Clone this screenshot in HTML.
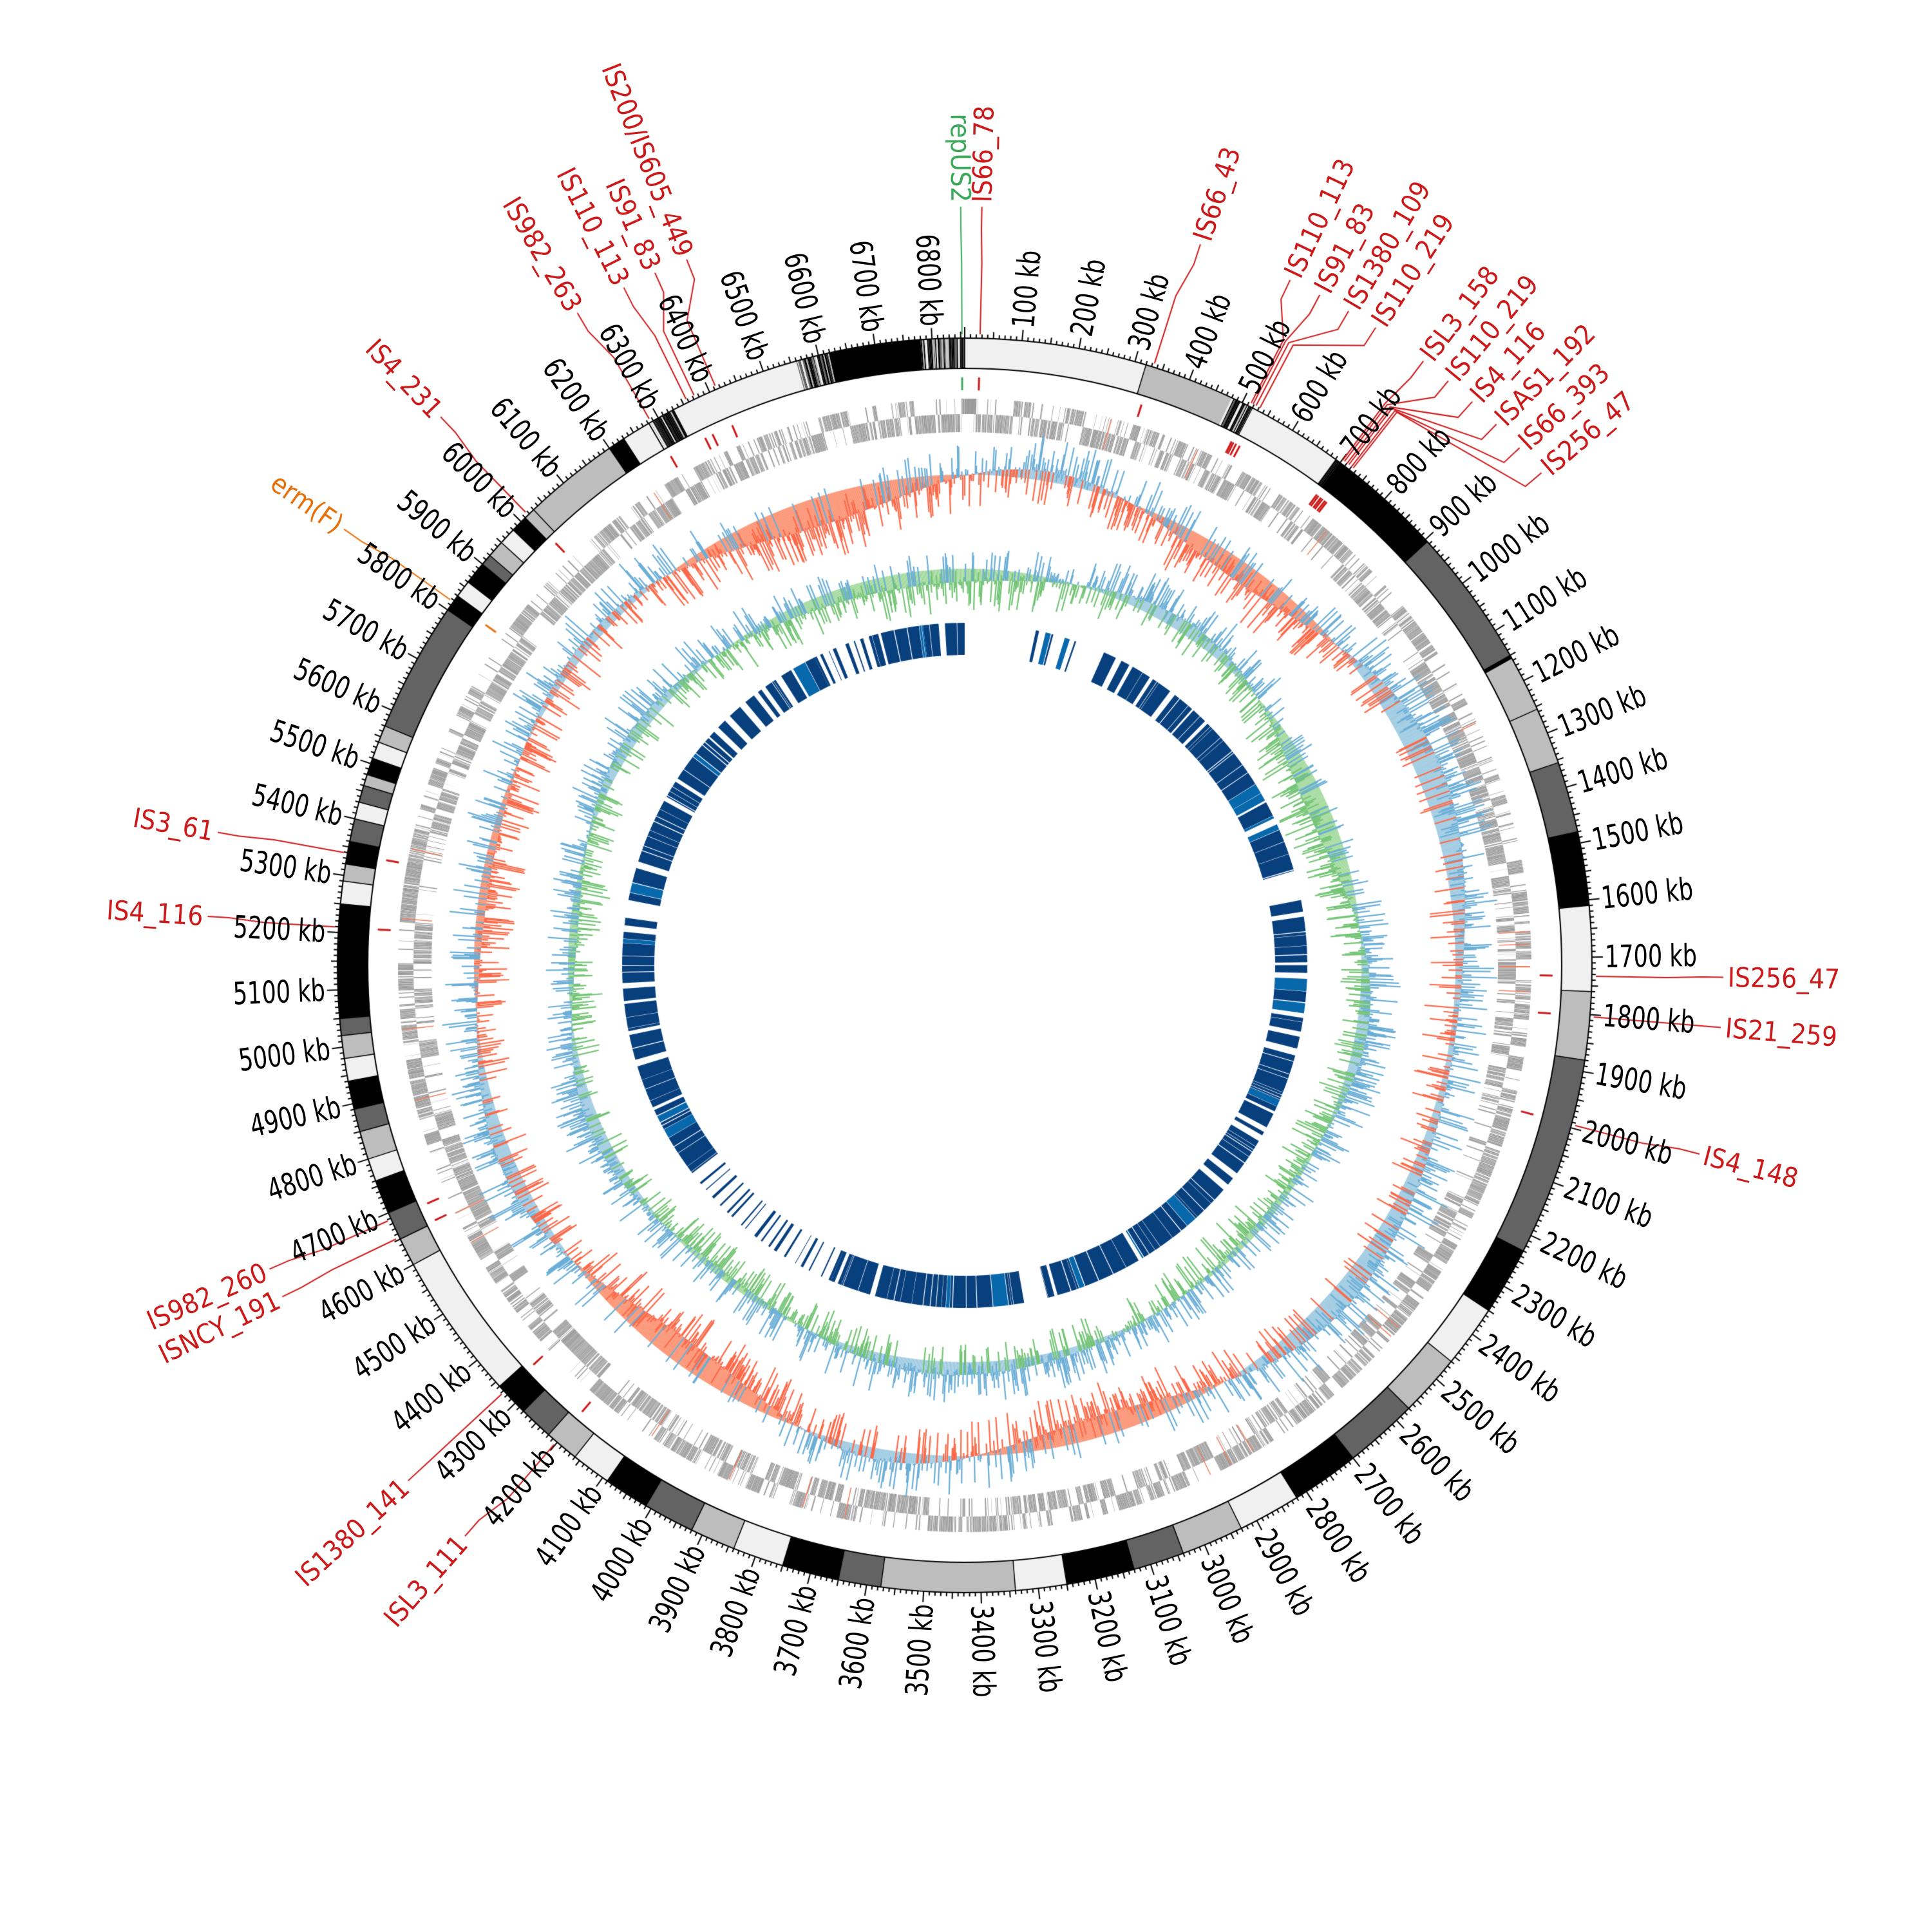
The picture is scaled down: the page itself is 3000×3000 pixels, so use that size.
<!DOCTYPE html>
<html><head><meta charset="utf-8">
<style>
html,body{margin:0;padding:0;background:#fff;}
#wrap{position:relative;width:3000px;height:3000px;overflow:hidden;}
canvas,svg{position:absolute;left:0;top:0;}
.t{font-family:"Liberation Sans Narrow","DejaVu Sans Condensed","Liberation Sans",sans-serif;font-size:48px;fill:#000;dominant-baseline:central;}
.f{font-family:"Liberation Sans Narrow","DejaVu Sans Condensed","Liberation Sans",sans-serif;font-size:42px;fill:#cc1a1a;dominant-baseline:central;}
.e{text-anchor:end;}
</style></head><body>
<div id="wrap">
<canvas id="c" width="3000" height="3000"></canvas>
<svg width="3000" height="3000" viewBox="0 0 3000 3000">
<g class="t">
<text transform="rotate(-84.75 1498 1499)" x="2492" y="1499" textLength="121" lengthAdjust="spacingAndGlyphs">100 kb</text>
<text transform="rotate(-79.5 1498 1499)" x="2492" y="1499" textLength="121" lengthAdjust="spacingAndGlyphs">200 kb</text>
<text transform="rotate(-74.25 1498 1499)" x="2492" y="1499" textLength="121" lengthAdjust="spacingAndGlyphs">300 kb</text>
<text transform="rotate(-69 1498 1499)" x="2492" y="1499" textLength="121" lengthAdjust="spacingAndGlyphs">400 kb</text>
<text transform="rotate(-63.75 1498 1499)" x="2492" y="1499" textLength="121" lengthAdjust="spacingAndGlyphs">500 kb</text>
<text transform="rotate(-58.5 1498 1499)" x="2492" y="1499" textLength="121" lengthAdjust="spacingAndGlyphs">600 kb</text>
<text transform="rotate(-53.25 1498 1499)" x="2492" y="1499" textLength="121" lengthAdjust="spacingAndGlyphs">700 kb</text>
<text transform="rotate(-48 1498 1499)" x="2492" y="1499" textLength="121" lengthAdjust="spacingAndGlyphs">800 kb</text>
<text transform="rotate(-42.75 1498 1499)" x="2492" y="1499" textLength="121" lengthAdjust="spacingAndGlyphs">900 kb</text>
<text transform="rotate(-37.5 1498 1499)" x="2492" y="1499" textLength="143" lengthAdjust="spacingAndGlyphs">1000 kb</text>
<text transform="rotate(-32.25 1498 1499)" x="2492" y="1499" textLength="143" lengthAdjust="spacingAndGlyphs">1100 kb</text>
<text transform="rotate(-27 1498 1499)" x="2492" y="1499" textLength="143" lengthAdjust="spacingAndGlyphs">1200 kb</text>
<text transform="rotate(-21.75 1498 1499)" x="2492" y="1499" textLength="143" lengthAdjust="spacingAndGlyphs">1300 kb</text>
<text transform="rotate(-16.5 1498 1499)" x="2492" y="1499" textLength="143" lengthAdjust="spacingAndGlyphs">1400 kb</text>
<text transform="rotate(-11.25 1498 1499)" x="2492" y="1499" textLength="143" lengthAdjust="spacingAndGlyphs">1500 kb</text>
<text transform="rotate(-6 1498 1499)" x="2492" y="1499" textLength="143" lengthAdjust="spacingAndGlyphs">1600 kb</text>
<text transform="rotate(-0.75 1498 1499)" x="2492" y="1499" textLength="143" lengthAdjust="spacingAndGlyphs">1700 kb</text>
<text transform="rotate(4.5 1498 1499)" x="2492" y="1499" textLength="143" lengthAdjust="spacingAndGlyphs">1800 kb</text>
<text transform="rotate(9.75 1498 1499)" x="2492" y="1499" textLength="143" lengthAdjust="spacingAndGlyphs">1900 kb</text>
<text transform="rotate(15 1498 1499)" x="2492" y="1499" textLength="143" lengthAdjust="spacingAndGlyphs">2000 kb</text>
<text transform="rotate(20.25 1498 1499)" x="2492" y="1499" textLength="143" lengthAdjust="spacingAndGlyphs">2100 kb</text>
<text transform="rotate(25.5 1498 1499)" x="2492" y="1499" textLength="143" lengthAdjust="spacingAndGlyphs">2200 kb</text>
<text transform="rotate(30.75 1498 1499)" x="2492" y="1499" textLength="143" lengthAdjust="spacingAndGlyphs">2300 kb</text>
<text transform="rotate(36 1498 1499)" x="2492" y="1499" textLength="143" lengthAdjust="spacingAndGlyphs">2400 kb</text>
<text transform="rotate(41.25 1498 1499)" x="2492" y="1499" textLength="143" lengthAdjust="spacingAndGlyphs">2500 kb</text>
<text transform="rotate(46.5 1498 1499)" x="2492" y="1499" textLength="143" lengthAdjust="spacingAndGlyphs">2600 kb</text>
<text transform="rotate(51.75 1498 1499)" x="2492" y="1499" textLength="143" lengthAdjust="spacingAndGlyphs">2700 kb</text>
<text transform="rotate(57 1498 1499)" x="2492" y="1499" textLength="143" lengthAdjust="spacingAndGlyphs">2800 kb</text>
<text transform="rotate(62.25 1498 1499)" x="2492" y="1499" textLength="143" lengthAdjust="spacingAndGlyphs">2900 kb</text>
<text transform="rotate(67.5 1498 1499)" x="2492" y="1499" textLength="143" lengthAdjust="spacingAndGlyphs">3000 kb</text>
<text transform="rotate(72.75 1498 1499)" x="2492" y="1499" textLength="143" lengthAdjust="spacingAndGlyphs">3100 kb</text>
<text transform="rotate(78 1498 1499)" x="2492" y="1499" textLength="143" lengthAdjust="spacingAndGlyphs">3200 kb</text>
<text transform="rotate(83.25 1498 1499)" x="2492" y="1499" textLength="143" lengthAdjust="spacingAndGlyphs">3300 kb</text>
<text transform="rotate(88.5 1498 1499)" x="2492" y="1499" textLength="143" lengthAdjust="spacingAndGlyphs">3400 kb</text>
<text class="e" transform="rotate(273.75 1498 1499)" x="504" y="1499" textLength="143" lengthAdjust="spacingAndGlyphs">3500 kb</text>
<text class="e" transform="rotate(279 1498 1499)" x="504" y="1499" textLength="143" lengthAdjust="spacingAndGlyphs">3600 kb</text>
<text class="e" transform="rotate(284.25 1498 1499)" x="504" y="1499" textLength="143" lengthAdjust="spacingAndGlyphs">3700 kb</text>
<text class="e" transform="rotate(289.5 1498 1499)" x="504" y="1499" textLength="143" lengthAdjust="spacingAndGlyphs">3800 kb</text>
<text class="e" transform="rotate(294.75 1498 1499)" x="504" y="1499" textLength="143" lengthAdjust="spacingAndGlyphs">3900 kb</text>
<text class="e" transform="rotate(300 1498 1499)" x="504" y="1499" textLength="143" lengthAdjust="spacingAndGlyphs">4000 kb</text>
<text class="e" transform="rotate(305.25 1498 1499)" x="504" y="1499" textLength="143" lengthAdjust="spacingAndGlyphs">4100 kb</text>
<text class="e" transform="rotate(310.5 1498 1499)" x="504" y="1499" textLength="143" lengthAdjust="spacingAndGlyphs">4200 kb</text>
<text class="e" transform="rotate(315.75 1498 1499)" x="504" y="1499" textLength="143" lengthAdjust="spacingAndGlyphs">4300 kb</text>
<text class="e" transform="rotate(321 1498 1499)" x="504" y="1499" textLength="143" lengthAdjust="spacingAndGlyphs">4400 kb</text>
<text class="e" transform="rotate(326.25 1498 1499)" x="504" y="1499" textLength="143" lengthAdjust="spacingAndGlyphs">4500 kb</text>
<text class="e" transform="rotate(331.5 1498 1499)" x="504" y="1499" textLength="143" lengthAdjust="spacingAndGlyphs">4600 kb</text>
<text class="e" transform="rotate(336.75 1498 1499)" x="504" y="1499" textLength="143" lengthAdjust="spacingAndGlyphs">4700 kb</text>
<text class="e" transform="rotate(342 1498 1499)" x="504" y="1499" textLength="143" lengthAdjust="spacingAndGlyphs">4800 kb</text>
<text class="e" transform="rotate(347.25 1498 1499)" x="504" y="1499" textLength="143" lengthAdjust="spacingAndGlyphs">4900 kb</text>
<text class="e" transform="rotate(352.5 1498 1499)" x="504" y="1499" textLength="143" lengthAdjust="spacingAndGlyphs">5000 kb</text>
<text class="e" transform="rotate(357.75 1498 1499)" x="504" y="1499" textLength="143" lengthAdjust="spacingAndGlyphs">5100 kb</text>
<text class="e" transform="rotate(363 1498 1499)" x="504" y="1499" textLength="143" lengthAdjust="spacingAndGlyphs">5200 kb</text>
<text class="e" transform="rotate(368.25 1498 1499)" x="504" y="1499" textLength="143" lengthAdjust="spacingAndGlyphs">5300 kb</text>
<text class="e" transform="rotate(373.5 1498 1499)" x="504" y="1499" textLength="143" lengthAdjust="spacingAndGlyphs">5400 kb</text>
<text class="e" transform="rotate(378.75 1498 1499)" x="504" y="1499" textLength="143" lengthAdjust="spacingAndGlyphs">5500 kb</text>
<text class="e" transform="rotate(384 1498 1499)" x="504" y="1499" textLength="143" lengthAdjust="spacingAndGlyphs">5600 kb</text>
<text class="e" transform="rotate(389.25 1498 1499)" x="504" y="1499" textLength="143" lengthAdjust="spacingAndGlyphs">5700 kb</text>
<text class="e" transform="rotate(394.5 1498 1499)" x="504" y="1499" textLength="143" lengthAdjust="spacingAndGlyphs">5800 kb</text>
<text class="e" transform="rotate(399.75 1498 1499)" x="504" y="1499" textLength="143" lengthAdjust="spacingAndGlyphs">5900 kb</text>
<text class="e" transform="rotate(405 1498 1499)" x="504" y="1499" textLength="143" lengthAdjust="spacingAndGlyphs">6000 kb</text>
<text class="e" transform="rotate(410.25 1498 1499)" x="504" y="1499" textLength="143" lengthAdjust="spacingAndGlyphs">6100 kb</text>
<text class="e" transform="rotate(415.5 1498 1499)" x="504" y="1499" textLength="143" lengthAdjust="spacingAndGlyphs">6200 kb</text>
<text class="e" transform="rotate(420.75 1498 1499)" x="504" y="1499" textLength="143" lengthAdjust="spacingAndGlyphs">6300 kb</text>
<text class="e" transform="rotate(426 1498 1499)" x="504" y="1499" textLength="143" lengthAdjust="spacingAndGlyphs">6400 kb</text>
<text class="e" transform="rotate(431.25 1498 1499)" x="504" y="1499" textLength="143" lengthAdjust="spacingAndGlyphs">6500 kb</text>
<text class="e" transform="rotate(436.5 1498 1499)" x="504" y="1499" textLength="143" lengthAdjust="spacingAndGlyphs">6600 kb</text>
<text class="e" transform="rotate(441.75 1498 1499)" x="504" y="1499" textLength="143" lengthAdjust="spacingAndGlyphs">6700 kb</text>
<text class="e" transform="rotate(447 1498 1499)" x="504" y="1499" textLength="143" lengthAdjust="spacingAndGlyphs">6800 kb</text>
</g>
<g class="f">
<text transform="rotate(-88.7 1498 1499)" x="2683" y="1499">IS66_78</text>
<text transform="rotate(-71.9 1498 1499)" x="2683" y="1499">IS66_43</text>
<text transform="rotate(-64.6 1498 1499)" x="2683" y="1499">IS110_113</text>
<text transform="rotate(-62.1 1498 1499)" x="2683" y="1499">IS91_83</text>
<text transform="rotate(-59.6 1498 1499)" x="2683" y="1499">IS1380_109</text>
<text transform="rotate(-57.2 1498 1499)" x="2683" y="1499">IS110_219</text>
<text transform="rotate(-52.8 1498 1499)" x="2683" y="1499">ISL3_158</text>
<text transform="rotate(-50.4 1498 1499)" x="2683" y="1499">IS110_219</text>
<text transform="rotate(-48 1498 1499)" x="2683" y="1499">IS4_116</text>
<text transform="rotate(-45.5 1498 1499)" x="2683" y="1499">ISAS1_192</text>
<text transform="rotate(-43 1498 1499)" x="2683" y="1499">IS66_393</text>
<text transform="rotate(-40.5 1498 1499)" x="2683" y="1499">IS256_47</text>
<text transform="rotate(0.9 1498 1499)" x="2683" y="1499">IS256_47</text>
<text transform="rotate(4.7 1498 1499)" x="2683" y="1499">IS21_259</text>
<text transform="rotate(14.4 1498 1499)" x="2683" y="1499">IS4_148</text>
<text class="e" transform="rotate(449.7 1498 1499)" x="313" y="1499" style="fill:#3aaa5a">repUS2</text>
<text class="e" transform="rotate(370.1 1498 1499)" x="313" y="1499">IS3_61</text>
<text class="e" transform="rotate(363.7 1498 1499)" x="313" y="1499">IS4_116</text>
<text class="e" transform="rotate(395.1 1498 1499)" x="313" y="1499" style="fill:#e8700a">erm(F)</text>
<text class="e" transform="rotate(406.3 1498 1499)" x="313" y="1499">IS4_231</text>
<text class="e" transform="rotate(419.3 1498 1499)" x="313" y="1499">IS982_263</text>
<text class="e" transform="rotate(423.3 1498 1499)" x="313" y="1499">IS110_113</text>
<text class="e" transform="rotate(425.9 1498 1499)" x="313" y="1499">IS91_83</text>
<text class="e" transform="rotate(428.5 1498 1499)" x="313" y="1499">IS200/IS605_449</text>
<text class="e" transform="rotate(336.4 1498 1499)" x="313" y="1499">IS982_260</text>
<text class="e" transform="rotate(334.1 1498 1499)" x="313" y="1499">ISNCY_191</text>
<text class="e" transform="rotate(317.2 1498 1499)" x="313" y="1499">IS1380_141</text>
<text class="e" transform="rotate(311.2 1498 1499)" x="313" y="1499">ISL3_111</text>
</g>
</svg>
</div>
<script>
(function(){
var c=document.getElementById('c'),ctx=c.getContext('2d');
var cx=1498,cy=1499,L=6857,PI=Math.PI,D=PI/180;
var s=12345;function R(){s|=0;s=s+0x6D2B79F5|0;var t=Math.imul(s^s>>>15,1|s);t=t+Math.imul(t^t>>>7,61|t)^t;return((t^t>>>14)>>>0)/4294967296;}
function ang(kb){return kb/L*2*PI;}
function pt(t,r){return [cx+r*Math.sin(t),cy-r*Math.cos(t)];}
function band(t1,t2,r1,r2,col){if(t2<=t1)return;ctx.beginPath();ctx.arc(cx,cy,r2,t1-PI/2,t2-PI/2);ctx.arc(cx,cy,r1,t2-PI/2,t1-PI/2,true);ctx.closePath();ctx.fillStyle=col;ctx.fill();}
function rad(t,r1,r2,col,w){var a=pt(t,r1),b=pt(t,r2);ctx.beginPath();ctx.moveTo(a[0],a[1]);ctx.lineTo(b[0],b[1]);ctx.strokeStyle=col;ctx.lineWidth=w;ctx.stroke();}
var Lc='#f0f0f0',G='#bdbdbd',Dk='#636363',B='#000000';
var bands=[[0,320,Lc],[320,480,G],[480,520,'S'],[520,690,Lc],[690,700,'S'],[700,905,B],[905,1150,Dk],[1150,1156,B],[1156,1255,G],[1255,1355,G],[1355,1480,Dk],[1480,1610,B],[1610,1760,Lc],[1760,1880,G],[1880,2230,Dk],[2230,2350,B],[2350,2460,Lc],[2460,2570,G],[2570,2700,Dk],[2700,2820,B],[2820,2930,Lc],[2930,3040,G],[3040,3130,Dk],[3130,3250,B],[3250,3340,Lc],[3340,3575,G],[3575,3650,Dk],[3650,3750,B],[3750,3840,Lc],[3840,3920,G],[3920,4010,Dk],[4010,4090,B],[4090,4160,Lc],[4160,4220,G],[4220,4280,Dk],[4280,4340,B],[4340,4600,Lc],[4600,4650,G],[4650,4700,Dk],[4700,4760,B],[4760,4800,Lc],[4800,4850,G],[4850,4890,Dk],[4890,4940,B],[4940,4980,Lc],[4980,5020,G],[5020,5050,Dk],[5050,5250,B],[5250,5290,Lc],[5290,5320,G],[5320,5360,B],[5360,5400,Dk],[5400,5430,Lc],[5430,5460,Dk],[5460,5480,G],[5480,5510,B],[5510,5540,Lc],[5540,5570,G],[5570,5800,Dk],[5800,5830,B],[5830,5860,Lc],[5860,5900,B],[5900,5920,Dk],[5920,5950,G],[5950,5980,Lc],[5980,6010,B],[6010,6030,G],[6030,6200,G],[6200,6230,B],[6230,6280,Lc],[6280,6330,'S'],[6330,6560,Lc],[6560,6620,'S'],[6620,6780,B],[6780,6857,'S']];
var rI=927,rO=974;
bands.forEach(function(b){
 if(b[2]==='S'){var p=b[0];var cols=[B,Lc,Dk,G,B,B];while(p<b[1]){var w=0.5+R()*3;band(ang(p),ang(Math.min(p+w,b[1])),rI,rO,cols[Math.floor(R()*cols.length)]);p+=w;}}
 else band(ang(b[0]),ang(b[1]),rI,rO,b[2]);
});
ctx.strokeStyle='#000';ctx.lineWidth=2;
ctx.beginPath();ctx.arc(cx,cy,rO,0,2*PI);ctx.stroke();
ctx.beginPath();ctx.arc(cx,cy,rI,0,2*PI);ctx.stroke();
bands.forEach(function(b){if(b[2]!=='S')rad(ang(b[0]),rI,rO,'#000',1.5);});
for(var k=0;k<L;k+=10){var len=(k%100===0)?17:(k%50===0?10:6);rad(ang(k),rO,rO+len,'#000',2);}
var p=0;
while(p<L){var seg=4+R()*35;var st=R()<0.5?0:1;var q=p;
 while(q<p+seg){var g=0.3+R()*2.2;var rr=R();var s2=rr<0.85?st:(rr<0.95?1-st:-1);
  if(s2===0)band(ang(q),ang(q+g),856,880,'#9a9a9a');else if(s2===1)band(ang(q),ang(q+g),828,856,'#9a9a9a');
  q+=g+R()*0.35;}
 p+=seg;}
for(var i=0;i<25;i++){var t=R()*2*PI;rad(t,830,878,'#f08060',1.5);}
function mk(n,amp){var ph=[],fr=[],am=[];for(var i=0;i<n;i++){ph.push(R()*6.28);fr.push(1+Math.floor(R()*9));am.push(amp*(0.4+R()*0.6)/Math.sqrt(i+1));}return function(t){var v=0;for(var i=0;i<n;i++)v+=am[i]*Math.sin(fr[i]*t+ph[i]);return v;};}
function track(r0,pos,posL,neg,negL,sm,amp){
 var N=3200;var dt=2*PI/N;
 for(var i=0;i<N;i++){var t=i*dt;var sv=sm(t);band(t,t+dt*1.05,sv>0?r0:r0+sv,sv>0?r0+sv:r0,sv>0?posL:negL);}
 for(var i=0;i<N;i++){var t=i*dt;var sv=sm(t);var n=Math.pow(R(),2.2)*amp*(R()<0.5?-1:1);var v=sv+n;
  rad(t,r0+sv,r0+v,v>0?pos:neg,2.2);}
}
track(762,'#6baed6','#9ecae1','#fb6a4a','#fc9272',mk(6,22),55);
track(616,'#6baed6','#9ecae1','#74c476','#a1d99b',mk(6,18),48);
var full=[[-7,0],[12,15],[17,19],[24,74],[79,166],[170,203],[233,278],[281,334],[344,353]],sp=[[203,233],[334,344]];
full.forEach(function(r){var d=r[0];while(d<r[1]){var w=0.2+R()*2.5;var e=Math.min(d+w,r[1]);band(d*D,e*D,482,532,R()<0.12?'#0868ac':'#08407e');var gp=R()<0.75?0.04+R()*0.12:0.3+R()*0.9;d=e+gp;}});
sp.forEach(function(r){var d=r[0];while(d<r[1]){var w=0.1+R()*0.5;band(d*D,(d+w)*D,482,532,'#08407e');d+=w+0.6+R()*1.6;}});
var F=[[-0.25,-0.3,'#3aaa5a'],[1.4,1.3,'#cc1a1a'],[17.5,18.1,'#cc1a1a'],[27.0,25.4,'#cc1a1a'],[27.2,27.9,'#cc1a1a'],[27.5,30.4,'#cc1a1a'],[27.9,32.8,'#cc1a1a'],[36.8,37.2,'#cc1a1a'],[37.0,39.6,'#cc1a1a'],[37.3,42,'#cc1a1a'],[37.5,44.5,'#cc1a1a'],[37.8,47,'#cc1a1a'],[38.0,49.5,'#cc1a1a'],[91,90.9,'#cc1a1a'],[94.7,94.7,'#cc1a1a'],[104.7,104.4,'#cc1a1a'],[280.3,280.1,'#cc1a1a'],[273.5,273.7,'#cc1a1a'],[305.4,305.1,'#e8700a'],[315.9,316.3,'#cc1a1a'],[330,329.3,'#cc1a1a'],[333.8,333.3,'#cc1a1a'],[334.6,335.9,'#cc1a1a'],[336.7,338.5,'#cc1a1a'],[246.1,246.4,'#cc1a1a'],[244.3,244.1,'#cc1a1a'],[227.2,227.2,'#cc1a1a'],[220.6,221.2,'#cc1a1a']];
F.forEach(function(f){var a=f[0]*D,b=f[1]*D;rad(a,893,913,f[2],3);
 var p1=pt(a,980),p2=pt(a,1090),p3=pt(b,1145),p4=pt(b,1178);
 ctx.beginPath();ctx.moveTo(p1[0],p1[1]);ctx.lineTo(p2[0],p2[1]);ctx.lineTo(p3[0],p3[1]);ctx.lineTo(p4[0],p4[1]);ctx.strokeStyle=f[2];ctx.lineWidth=2;ctx.stroke();});
})();
</script>
</body></html>
